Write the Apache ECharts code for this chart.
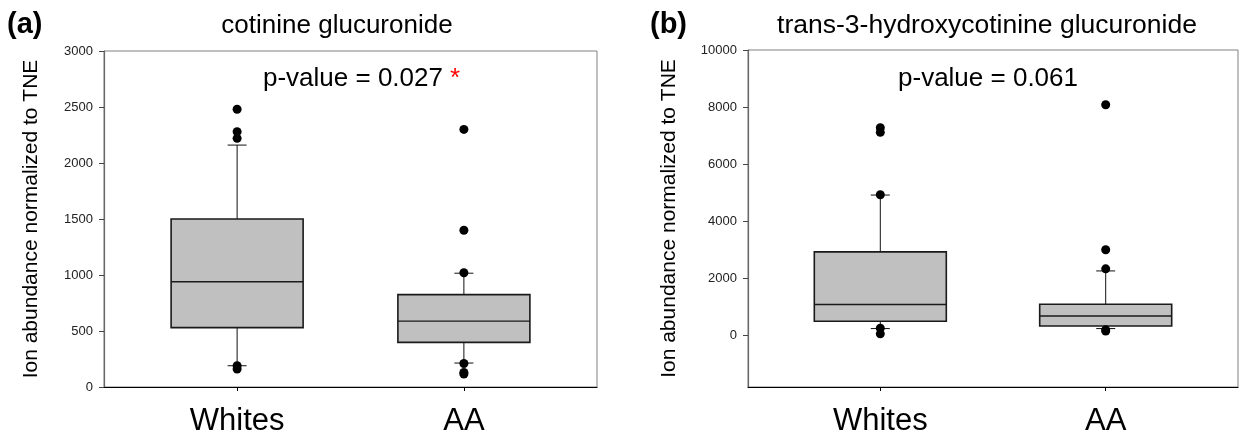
<!DOCTYPE html>
<html>
<head>
<meta charset="utf-8">
<script src="https://cdn.jsdelivr.net/npm/echarts@6/dist/echarts.min.js"></script>
<style>
html,body{margin:0;padding:0;background:#fff;}
#c{width:1239px;height:440px;}
</style>
</head>
<body>
<div id="c"></div>
<script>
// ---- data ----
const categories = ['Whites', 'AA'];
// [lower whisker, Q1, median, Q3, upper whisker]
const boxA = [[190, 530, 940, 1500, 2160], [214, 398, 588, 825, 1016]];
const outliersA = [[2480, 2280, 2220, 190, 160], [2300, 1400, 1020, 210, 130, 115]];
const boxB = [[225, 481, 1070, 2915, 4910], [225, 316, 667, 1078, 2248]];
const outliersB = [[7270, 7110, 4920, 240, 40], [8080, 2990, 2320, 180, 140]];
const ticksA = [0, 500, 1000, 1500, 2000, 2500, 3000];
const ticksB = [0, 2000, 4000, 6000, 8000, 10000];
const titleA = 'cotinine glucuronide';
const titleB = 'trans-3-hydroxycotinine glucuronide';
const pA = 'p-value = 0.027';
const pB = 'p-value = 0.061';
const yName = 'Ion abundance normalized to TNE';

const FONT = '"Liberation Sans", Arial, Helvetica, sans-serif';
const BOX_W = 132, CAP_W = 19;

function boxData(box) { return box.map((b, i) => [i].concat(b)); }
function outData(out) { const r = []; out.forEach((arr, i) => arr.forEach(v => r.push([i, v]))); return r; }

function renderBox(params, api) {
  const x = api.value(0);
  const lo = api.coord([x, api.value(1)]);
  const q1 = api.coord([x, api.value(2)]);
  const md = api.coord([x, api.value(3)]);
  const q3 = api.coord([x, api.value(4)]);
  const hi = api.coord([x, api.value(5)]);
  const cx = lo[0], h = BOX_W / 2, c = CAP_W / 2;
  const ln = { stroke: '#111', lineWidth: 1 };
  return {
    type: 'group',
    children: [
      { type: 'line', shape: { x1: cx, y1: q3[1], x2: cx, y2: hi[1] }, style: ln },
      { type: 'line', shape: { x1: cx, y1: q1[1], x2: cx, y2: lo[1] }, style: ln },
      { type: 'line', shape: { x1: cx - c, y1: hi[1], x2: cx + c, y2: hi[1] }, style: ln },
      { type: 'line', shape: { x1: cx - c, y1: lo[1], x2: cx + c, y2: lo[1] }, style: ln },
      { type: 'rect', shape: { x: cx - h, y: q3[1], width: BOX_W, height: q1[1] - q3[1] },
        style: { fill: '#c0c0c0', stroke: '#1a1a1a', lineWidth: 1.6 } },
      { type: 'line', shape: { x1: cx - h, y1: md[1], x2: cx + h, y2: md[1] },
        style: { stroke: '#1a1a1a', lineWidth: 1.4 } }
    ]
  };
}

function xAxis(gi) {
  return {
    type: 'value', gridIndex: gi, min: -0.587, max: 1.587,
    axisLine: { show: true, onZero: false, lineStyle: { color: '#000', width: 1.2 } },
    axisTick: { show: true, customValues: [0, 1], length: 4, lineStyle: { color: '#000' } },
    axisLabel: { customValues: [0, 1], formatter: v => categories[Math.round(v)],
      fontFamily: FONT, fontSize: 31, color: '#000', margin: 19 },
    splitLine: { show: false }
  };
}
function yAxis(gi, min, max, ticks, gap) {
  return {
    type: 'value', gridIndex: gi, min: min, max: max,
    name: yName, nameLocation: 'middle', nameGap: gap, nameRotate: 90,
    nameTextStyle: { fontFamily: FONT, fontSize: 21, color: '#000' },
    axisLine: { show: true, onZero: false, lineStyle: { color: '#666', width: 1.2 } },
    axisTick: { show: true, customValues: ticks, length: 5, lineStyle: { color: '#444' } },
    axisLabel: { customValues: ticks, formatter: v => String(v), fontFamily: FONT, fontSize: 13, color: '#222', margin: 11 },
    splitLine: { show: false }
  };
}

const chart = echarts.init(document.getElementById('c'), null, { renderer: 'canvas' });
chart.setOption({
  animation: false,
  backgroundColor: '#fff',
  grid: [
    { left: 104, top: 51, width: 493, height: 336, show: true, borderColor: '#808080', borderWidth: 1 },
    { left: 748, top: 50, width: 490, height: 337, show: true, borderColor: '#808080', borderWidth: 1 }
  ],
  xAxis: [xAxis(0), xAxis(1)],
  yAxis: [yAxis(0, 0, 3000, ticksA, 62), yAxis(1, -1825, 10000, ticksB, 68)],
  series: [
    { type: 'custom', xAxisIndex: 0, yAxisIndex: 0, renderItem: renderBox, data: boxData(boxA),
      encode: { x: 0, y: [1, 2, 3, 4, 5] }, z: 2 },
    { type: 'scatter', xAxisIndex: 0, yAxisIndex: 0, data: outData(outliersA), symbolSize: 9,
      itemStyle: { color: '#000', opacity: 1 }, z: 3 },
    { type: 'custom', xAxisIndex: 1, yAxisIndex: 1, renderItem: renderBox, data: boxData(boxB),
      encode: { x: 0, y: [1, 2, 3, 4, 5] }, z: 2 },
    { type: 'scatter', xAxisIndex: 1, yAxisIndex: 1, data: outData(outliersB), symbolSize: 9,
      itemStyle: { color: '#000', opacity: 1 }, z: 3 }
  ],
  graphic: [
    { type: 'text', x: 7, y: 25, style: { text: '(a)', font: 'bold 29px ' + FONT, fill: '#000', textVerticalAlign: 'middle' } },
    { type: 'text', x: 650, y: 25, style: { text: '(b)', font: 'bold 29px ' + FONT, fill: '#000', textVerticalAlign: 'middle' } },
    { type: 'text', x: 337, y: 26, style: { text: titleA, font: '26px ' + FONT, fill: '#000', textAlign: 'center', textVerticalAlign: 'middle' } },
    { type: 'text', x: 987, y: 26, style: { text: titleB, font: '26.5px ' + FONT, fill: '#000', textAlign: 'center', textVerticalAlign: 'middle' } },
    { type: 'text', x: 263, y: 79, style: { text: pA, font: '26px ' + FONT, fill: '#000', textVerticalAlign: 'middle' } },
    { type: 'text', x: 450, y: 79, style: { text: '*', font: '26px ' + FONT, fill: '#ff0000', textVerticalAlign: 'middle' } },
    { type: 'text', x: 988, y: 79, style: { text: pB, font: '26px ' + FONT, fill: '#000', textAlign: 'center', textVerticalAlign: 'middle' } }
  ]
});
</script>
</body>
</html>
